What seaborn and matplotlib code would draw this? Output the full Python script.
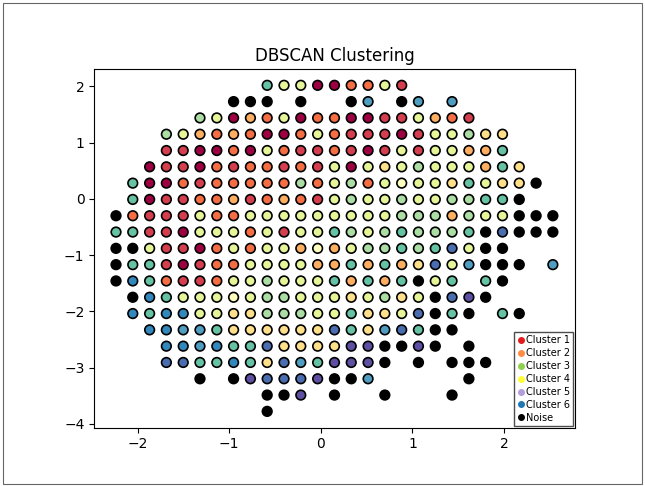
import numpy as np
import pandas as pd
import matplotlib
matplotlib.use('Agg')
import matplotlib.pyplot as plt
import seaborn as sns
from matplotlib.lines import Line2D
from matplotlib.patches import Rectangle

# grid columns / rows
col_x = [-2.237, -2.054, -1.870, -1.687, -1.503, -1.320, -1.136, -0.953, -0.769,
         -0.586, -0.402, -0.219, -0.035, 0.149, 0.332, 0.516, 0.699, 0.883,
         1.066, 1.250, 1.433, 1.617, 1.800, 1.984, 2.167, 2.351, 2.534]
row_y = [2.02, 1.73, 1.44, 1.15, 0.86, 0.57, 0.28, -0.01, -0.30, -0.59, -0.88,
         -1.17, -1.46, -1.75, -2.04, -2.33, -2.62, -2.91, -3.20, -3.49, -3.78]

# one char per column, '.' = no point, K = noise
rows = [
    ".........TggDDOOgR.........",
    ".......KKK.K..Kb.Kb.b......",
    ".....GgDoOgDOODDRRgoOR.....",
    "...GgoOoODDOgORRRDRggGYY...",
    "...RRDDODgORRORDRgRggooT...",
    "..DRRDOROORORgDgYgGgggoTY..",
    ".TDDOROOOOOGOgGOgyggYTgYYK.",
    ".TDRROOoROoORgGggGggGGTTK..",
    "KORRRgOOgggggggggGGGoGggKKK",
    "TTRRDgggOgRggTGgGTGGGTKQKKK",
    "KKgRRDOgOggoyogGGTGTQgKK...",
    "KTTRDROOggggooToToYQgbKKK.b",
    "KBTORROggGgggToToTKgT.TK...",
    ".KBTgggygGGgggYgGYgKQPK....",
    ".BTBBggYYGGGggTYYgQKTK.TK..",
    "..BBbbTYYYYYYQTYbQTKK......",
    "...BBbBTTQYYYYPPKKPK.K.....",
    "...QQTTBTYQbTPPPK.K.KKK....",
    ".....K.KPQQQPKKb.....K.....",
    ".........KKP.K..K...K......",
    ".........K.................",
]

point_colors = {
    'D': '#9e0142', 'R': '#d53e4f', 'O': '#f46d43', 'o': '#fdae61',
    'Y': '#fee08b', 'y': '#ffffbf', 'g': '#e6f598', 'G': '#abdda4',
    'T': '#66c2a5', 'b': '#4f9ec2', 'B': '#3288bd', 'Q': '#4a6db0',
    'P': '#5e4fa2', 'K': '#000000',
}

legend_labels = ['Cluster 1', 'Cluster 2', 'Cluster 3', 'Cluster 4',
                 'Cluster 5', 'Cluster 6', 'Noise']
legend_colors = ['#e31a1c', '#ff8c42', '#8fd14f', '#ffff33',
                 '#b39ddb', '#1f78b4', '#000000']

recs = []
for y, line in zip(row_y, rows):
    for x, c in zip(col_x, line):
        if c != '.':
            recs.append((x, y, c))
df = pd.DataFrame(recs, columns=['x', 'y', 'c'])

fig = plt.figure(figsize=(6.45, 4.86), dpi=100)
ax = fig.add_axes([0.146, 0.120, 0.745, 0.738])

sns.scatterplot(data=df, x='x', y='y', hue='c', palette=point_colors,
                s=48, edgecolor='k', linewidth=1.2, legend=False, ax=ax)
ax.set_xlabel('')
ax.set_ylabel('')
ax.set_title('DBSCAN Clustering')

handles = [Line2D([], [], marker='o', ls='', color=c, markersize=4)
           for c in legend_colors]
ax.legend(handles, legend_labels, loc='lower right', fontsize=7,
          handletextpad=0.1, labelspacing=0.3, borderpad=0.3,
          handlelength=0.8, fancybox=False, edgecolor='0.3',
          framealpha=1, borderaxespad=0.2)

fig.patches.append(Rectangle((0.004, 0.004), 0.992, 0.99,
                             transform=fig.transFigure, fill=False,
                             edgecolor='0.4', lw=0.8))

fig.savefig('out.png', dpi=100)
